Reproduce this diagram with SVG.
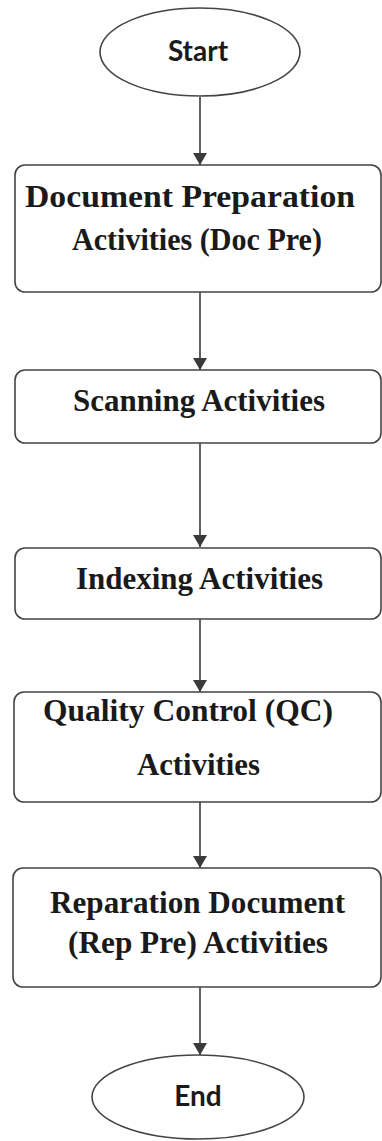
<svg xmlns="http://www.w3.org/2000/svg" width="382" height="1141" viewBox="0 0 382 1141">
<defs>
<marker id="arr" markerWidth="12" markerHeight="14" refX="12" refY="7" orient="auto" markerUnits="userSpaceOnUse" viewBox="0 0 12 14">
<path d="M0,0 L12,7 L0,14 Z" fill="#3a3a3a"/>
</marker>
<style>
.box{fill:#fff;stroke:#444;stroke-width:1.6}
.ov{fill:#fff;stroke:#444;stroke-width:1.6}
.t{font-family:"Liberation Serif","Times New Roman",serif;font-weight:bold;font-size:31px;fill:#1a1a1a}
.s{font-family:Lato,"Open Sans",sans-serif;font-weight:bold;font-size:28px;fill:#1a1a1a;text-anchor:middle}
.c{stroke:#3a3a3a;stroke-width:1.6;fill:none;marker-end:url(#arr)}
</style>
</defs>
<rect width="382" height="1141" fill="#fff"/>
<g id="connectors">
<line class="c" x1="200" y1="97" x2="200" y2="165"/>
<line class="c" x1="200" y1="292" x2="200" y2="370"/>
<line class="c" x1="200" y1="443" x2="200" y2="547"/>
<line class="c" x1="200" y1="619" x2="200" y2="692"/>
<line class="c" x1="200" y1="802" x2="200" y2="868"/>
<line class="c" x1="200" y1="987" x2="200" y2="1055"/>
</g>
<g id="start">
<ellipse class="ov" cx="200" cy="52" rx="100" ry="44"/>
<text class="s" x="198" y="61">Start</text>
</g>
<g id="docpre">
<rect class="box" x="15" y="165" width="366" height="127" rx="10"/>
<text class="t" x="25" y="207" textLength="330" lengthAdjust="spacingAndGlyphs">Document Preparation</text>
<text class="t" x="72" y="250" textLength="250" lengthAdjust="spacingAndGlyphs">Activities (Doc Pre)</text>
</g>
<g id="scanning">
<rect class="box" x="15" y="370" width="366" height="73" rx="10"/>
<text class="t" x="73" y="411" textLength="252" lengthAdjust="spacingAndGlyphs">Scanning Activities</text>
</g>
<g id="indexing">
<rect class="box" x="15" y="548" width="366" height="71" rx="10"/>
<text class="t" x="76" y="589" textLength="247" lengthAdjust="spacingAndGlyphs">Indexing Activities</text>
</g>
<g id="qc">
<rect class="box" x="14" y="692" width="367" height="110" rx="10"/>
<text class="t" x="43" y="721" textLength="290" lengthAdjust="spacingAndGlyphs">Quality Control (QC)</text>
<text class="t" x="137" y="775" textLength="123" lengthAdjust="spacingAndGlyphs">Activities</text>
</g>
<g id="reppre">
<rect class="box" x="13" y="868" width="368" height="119" rx="10"/>
<text class="t" x="50" y="913" textLength="295" lengthAdjust="spacingAndGlyphs">Reparation Document</text>
<text class="t" x="68" y="953" textLength="260" lengthAdjust="spacingAndGlyphs">(Rep Pre) Activities</text>
</g>
<g id="end">
<ellipse class="ov" cx="198" cy="1097" rx="106" ry="42"/>
<text class="s" x="198" y="1106">End</text>
</g>
</svg>
